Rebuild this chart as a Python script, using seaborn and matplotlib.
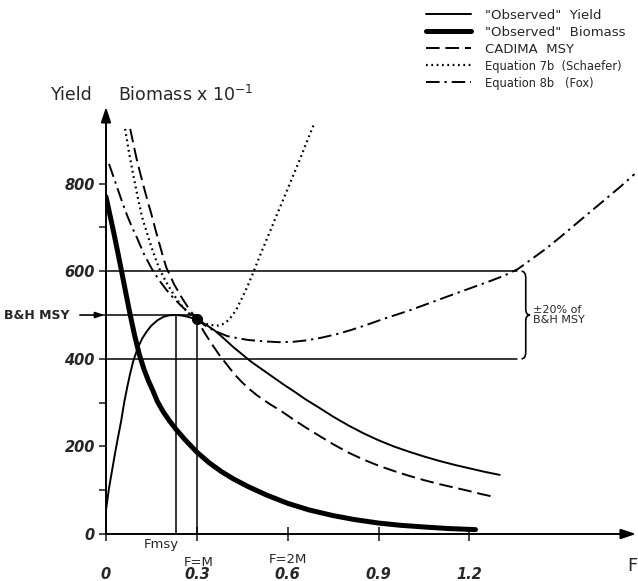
import matplotlib
matplotlib.use("Agg")
import matplotlib.pyplot as plt
import matplotlib.font_manager as fm
from matplotlib.path import Path
from matplotlib.patches import PathPatch
import seaborn as sns
import pandas as pd

# ---------------- data ----------------
yield_F = [0, 0.005, 0.01, 0.015, 0.02, 0.03, 0.04, 0.05, 0.06, 0.07, 0.08, 0.09,
           0.105, 0.12, 0.135, 0.15, 0.17, 0.19, 0.21, 0.23, 0.25, 0.27, 0.30,
           0.33, 0.36, 0.39, 0.42, 0.45, 0.48, 0.515, 0.55, 0.585, 0.62, 0.66, 0.70,
           0.75, 0.80, 0.85, 0.90, 0.95, 1.00, 1.05, 1.10, 1.15, 1.20, 1.25, 1.30]
yield_V = [55, 80, 105, 125, 145, 185, 222, 258, 300, 335, 367, 395,
           425, 447, 463, 476, 488, 496, 499.5, 500, 499, 496, 490,
           478, 464, 446, 427, 410, 393, 376, 359, 342, 326, 307, 290,
           268, 248, 230, 214, 200, 188, 177, 167, 158, 150, 142, 135]

biomass_F = [0, 0.0125, 0.025, 0.0375, 0.05, 0.065, 0.08, 0.095, 0.11, 0.125, 0.14,
             0.155, 0.17, 0.19, 0.21, 0.23, 0.26, 0.30, 0.34, 0.38, 0.42, 0.47, 0.53,
             0.60, 0.67, 0.75, 0.82, 0.90, 0.97, 1.05, 1.13, 1.22]
biomass_V = [770, 730, 690, 648, 605, 552, 500, 452, 410, 377, 350,
             327, 302, 278, 258, 240, 216, 187, 163, 143, 126, 108, 89,
             70, 55, 42, 33, 25, 20, 16, 12.5, 10]

cadima_F = [0.08, 0.09, 0.10, 0.1125, 0.125, 0.1375, 0.15, 0.1625, 0.175, 0.1875, 0.20,
            0.225, 0.25, 0.275, 0.30, 0.325, 0.35, 0.375, 0.40, 0.425, 0.45, 0.475,
            0.50, 0.54, 0.58, 0.62, 0.66, 0.70, 0.75, 0.80, 0.85, 0.90, 0.95, 1.00,
            1.05, 1.10, 1.15, 1.20, 1.24, 1.28]
cadima_V = [925, 892, 860, 825, 792, 760, 730, 697, 666, 635, 607,
            570, 540, 513, 490, 460, 433, 408, 386, 364, 346, 330,
            316, 297, 280, 261, 243, 226, 205, 186, 170, 156, 144, 133,
            123, 114, 106, 98, 91, 85]

schaefer_F = [0.063, 0.075, 0.09, 0.105, 0.119, 0.135, 0.15, 0.165, 0.178, 0.195, 0.21,
              0.225, 0.24, 0.255, 0.27, 0.285, 0.30, 0.315, 0.33, 0.35, 0.37, 0.385,
              0.40, 0.415, 0.43, 0.45, 0.47, 0.488, 0.505, 0.52, 0.55, 0.58, 0.61,
              0.64, 0.66, 0.686]
schaefer_V = [925, 875, 820, 768, 724, 688, 655, 626, 603, 580, 562,
              545, 530, 517, 506, 497, 490, 484, 480, 477, 476, 479,
              486, 497, 512, 540, 570, 600, 630, 655, 705, 755, 805,
              855, 890, 935]

fox_F = [0.01, 0.025, 0.04, 0.055, 0.07, 0.085, 0.10, 0.125, 0.15, 0.175, 0.20, 0.225,
         0.25, 0.275, 0.30, 0.325, 0.35, 0.375, 0.40, 0.435, 0.47, 0.52, 0.57, 0.62,
         0.66, 0.71, 0.76, 0.81, 0.85, 0.92, 1.00, 1.075, 1.15, 1.21, 1.27, 1.315,
         1.36, 1.40, 1.45, 1.50, 1.55, 1.60, 1.65, 1.70, 1.745]
fox_V = [845, 815, 785, 755, 727, 702, 680, 640, 607, 580, 557, 537,
         520, 504, 490, 477, 467, 459, 452, 447, 443, 440, 438, 439,
         442, 448, 456, 466, 475, 492, 510, 529, 548, 563, 578, 590,
         605, 625, 650, 678, 707, 736, 765, 794, 822]

series_labels = ['"Observed"  Yield', '"Observed"  Biomass', 'CADIMA  MSY',
                 'Equation 7b  (Schaefer)', 'Equation 8b   (Fox)']

msy_value = 500          # B&H MSY
band_upper = 600         # +20 %
band_lower = 400         # -20 %
band_end_F = 1.357
F_msy = 0.23
F_M = 0.3
point_V = 490

x_ticks = [0, 0.3, 0.6, 0.9, 1.2]
x_tick_labels = ["0", "0.3", "0.6", "0.9", "1.2"]
y_ticks = [0, 200, 400, 600, 800]
y_minor = [100, 300, 500, 700]

# ---------------- style ----------------
sns.set_style("white")
names = {f.name for f in fm.fontManager.ttflist}
main_font = "Liberation Sans Narrow" if "Liberation Sans Narrow" in names else "DejaVu Sans"
plt.rcParams["font.family"] = [main_font, "DejaVu Sans"]
plt.rcParams["mathtext.fontset"] = "dejavusans"

fig = plt.figure(figsize=(6.38, 5.81), dpi=100)
ax = fig.add_axes([106 / 638, 47 / 581, 530 / 638, 427 / 581])
ax.set_xlim(0, 1.75)
ax.set_ylim(0, 975)

def frame(F, V):
    return pd.DataFrame({"F": F, "V": V})

sns.lineplot(data=frame(yield_F, yield_V), x="F", y="V", ax=ax, color="black",
             linewidth=1.4, label=series_labels[0], errorbar=None)
sns.lineplot(data=frame(biomass_F, biomass_V), x="F", y="V", ax=ax, color="black",
             linewidth=3.6, label=series_labels[1], errorbar=None)
sns.lineplot(data=frame(cadima_F, cadima_V), x="F", y="V", ax=ax, color="black",
             linewidth=1.4, linestyle=(0, (7, 3)), label=series_labels[2], errorbar=None)
sns.lineplot(data=frame(schaefer_F, schaefer_V), x="F", y="V", ax=ax, color="black",
             linewidth=1.6, linestyle=(0, (0.8, 1.6)), label=series_labels[3], errorbar=None)
sns.lineplot(data=frame(fox_F, fox_V), x="F", y="V", ax=ax, color="black",
             linewidth=1.4, linestyle=(0, (7, 2.5, 1.2, 2.5)), label=series_labels[4],
             errorbar=None)

# reference lines
ax.plot([0, band_end_F], [band_upper, band_upper], color="black", lw=1.1)
ax.plot([0, band_end_F], [band_lower, band_lower], color="black", lw=1.1)
ax.plot([0, F_M], [msy_value, msy_value], color="black", lw=1.1)
ax.plot([F_msy, F_msy], [0, msy_value], color="black", lw=1.1)
ax.plot([F_M, F_M], [0, point_V], color="black", lw=1.1)
ax.plot([F_M], [point_V], "o", color="black", markersize=7)

# axes with arrows
for s in ax.spines.values():
    s.set_visible(False)
ax.annotate("", xy=(1, 0), xycoords="axes fraction", xytext=(0, 0),
            arrowprops=dict(arrowstyle="-|>,head_length=0.9,head_width=0.3", lw=1.4,
                            color="black", shrinkA=0, shrinkB=0))
ax.annotate("", xy=(0, 1), xycoords="axes fraction", xytext=(0, 0),
            arrowprops=dict(arrowstyle="-|>,head_length=0.9,head_width=0.3", lw=1.4,
                            color="black", shrinkA=0, shrinkB=0))

ax.set_yticks(y_ticks)
ax.set_yticks(y_minor, minor=True)
ax.set_yticklabels([str(v) for v in y_ticks])
ax.tick_params(axis="y", which="both", direction="out", length=5, width=1.2,
               pad=3, left=True, labelsize=10.5)
ax.set_xticks(x_ticks)
ax.set_xticklabels(x_tick_labels)
ax.tick_params(axis="x", direction="inout", length=10, width=1.2, pad=19,
               bottom=True, labelsize=10.5)
for lab in ax.get_xticklabels() + ax.get_yticklabels():
    lab.set_fontweight("bold")
    lab.set_fontstyle("italic")
ax.set_xlabel("")
ax.set_ylabel("")

# annotations
ax.text(0.182, -25, "Fmsy", ha="center", va="center", fontsize=9.5, clip_on=False)
ax.text(0.307, -64, "F=M", ha="center", va="center", fontsize=9.5, clip_on=False)
ax.text(0.60, -59, "F=2M", ha="center", va="center", fontsize=9.5, clip_on=False)
ax.text(1.737, -73, "F", ha="center", va="center", fontsize=13, clip_on=False)
ax.annotate("B&H MSY", xy=(0, msy_value), xytext=(-0.228, msy_value),
            ha="center", va="center", fontsize=9, fontweight="bold",
            annotation_clip=False,
            arrowprops=dict(arrowstyle="-|>,head_length=0.6,head_width=0.2", lw=1.2,
                            color="black", shrinkA=5, shrinkB=1))

# curly brace for +-20 %
x0, xm, xt = 1.372, 1.386, 1.400
verts = [(x0, band_upper), (xm, band_upper), (xm, band_upper - 16),
         (xm, msy_value + 14), (xm, msy_value), (xt, msy_value),
         (xm, msy_value), (xm, msy_value - 14),
         (xm, band_lower + 16), (xm, band_lower), (x0, band_lower)]
codes = [Path.MOVETO, Path.CURVE3, Path.CURVE3, Path.LINETO, Path.CURVE3, Path.CURVE3,
         Path.CURVE3, Path.CURVE3, Path.LINETO, Path.CURVE3, Path.CURVE3]
ax.add_patch(PathPatch(Path(verts, codes), fill=False, lw=1.2, color="black",
                       clip_on=False))
ax.text(1.41, msy_value, "\u00b120% of\nB&H MSY", ha="left", va="center",
        fontsize=8, linespacing=1.1, clip_on=False)

# y-axis title
fig.text(51 / 638, 1 - 95 / 581, "Yield", ha="left", va="center", fontsize=12.5)
fig.text(118 / 638, 1 - 95 / 581, "Biomass x 10$^{-1}$", ha="left", va="center",
         fontsize=12.5)

# legend
leg = ax.legend(loc="upper left", bbox_to_anchor=(418 / 638, 1 - 1 / 581),
                bbox_transform=fig.transFigure, frameon=False, fontsize=9.5,
                handlelength=3.4, handletextpad=1.1, labelspacing=0.3,
                borderpad=0.1)
for i, t in enumerate(leg.get_texts()):
    t.set_fontsize(9.5 if i < 3 else 8.3)

fig.savefig("out.png", dpi=100)
